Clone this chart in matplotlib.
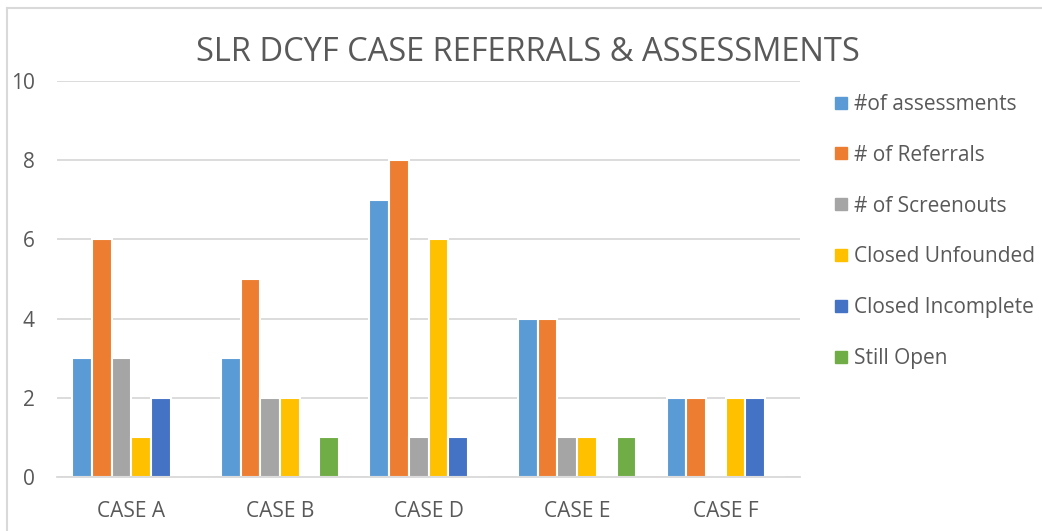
import matplotlib
matplotlib.use("Agg")
import matplotlib.pyplot as plt
import numpy as np
from matplotlib.lines import Line2D

categories = ["CASE A", "CASE B", "CASE D", "CASE E", "CASE F"]
series_names = ["#of assessments", "# of Referrals", "# of Screenouts",
                "Closed Unfounded", "Closed Incomplete", "Still Open"]
assessments = [3, 3, 7, 4, 2]
referrals = [6, 5, 8, 4, 2]
screenouts = [3, 2, 1, 1, 0]
closed_unfounded = [1, 2, 6, 1, 2]
closed_incomplete = [2, 0, 1, 0, 2]
still_open = [0, 1, 0, 1, 0]
series_values = [assessments, referrals, screenouts, closed_unfounded,
                 closed_incomplete, still_open]
colors = ["#5B9BD5", "#ED7D31", "#A5A5A5", "#FFC000", "#4472C4", "#70AD47"]
y_ticks = [0, 2, 4, 6, 8, 10]

plt.rcParams['font.family'] = ['Open Sans', 'DejaVu Sans']
text_color = "#595959"
grid_color = "#D9D9D9"

fig = plt.figure(figsize=(10.42, 5.31), dpi=100)
ax = fig.add_axes([0.0547, 0.1017, 0.7131, 0.7458])

x = np.arange(len(categories))
slot = 0.1326
n = len(series_values)
for i, (vals, c) in enumerate(zip(series_values, colors)):
    offs = (i - (n - 1) / 2) * slot
    ax.bar(x + offs, vals, width=slot, color=c, edgecolor="white",
           linewidth=1.5, zorder=3)

ax.set_xlim(-0.5, len(categories) - 0.5)
ax.set_ylim(0, 10)
ax.set_yticks(y_ticks)
ax.set_xticks(x)
ax.set_xticklabels(categories)
ax.tick_params(axis='both', length=0, labelcolor=text_color, labelsize=15)
ax.tick_params(axis='y', pad=16)
ax.tick_params(axis='x', pad=17)
ax.yaxis.grid(True, color=grid_color, linewidth=1.3, zorder=0)
ax.set_axisbelow(True)
for s in ["top", "right", "left"]:
    ax.spines[s].set_visible(False)
ax.spines["bottom"].set_color(grid_color)
ax.spines["bottom"].set_linewidth(1.3)
ax.spines["bottom"].set_zorder(5)

fig.text(0.507, 0.902, "SLR DCYF CASE REFERRALS & ASSESSMENTS",
         ha="center", va="center", fontsize=23.5, color=text_color)

handles = [Line2D([], [], linestyle="none", marker="s", markersize=8,
                  markerfacecolor=c, markeredgecolor=c) for c in colors]
fig.legend(handles, series_names, loc="upper left",
           bbox_to_anchor=(0.801, 0.823), frameon=False, fontsize=15,
           labelcolor=text_color, handlelength=0.6, handletextpad=0.35,
           labelspacing=1.43, borderpad=0, borderaxespad=0)

# chart border (top and left visible)
fig.add_artist(Line2D([0.0067, 0.0067], [0, 0.985], transform=fig.transFigure,
                      color=grid_color, linewidth=1.5))
fig.add_artist(Line2D([0.0067, 1], [0.985, 0.985], transform=fig.transFigure,
                      color=grid_color, linewidth=1.5))

fig.savefig("out.png", dpi=100, facecolor="white")
